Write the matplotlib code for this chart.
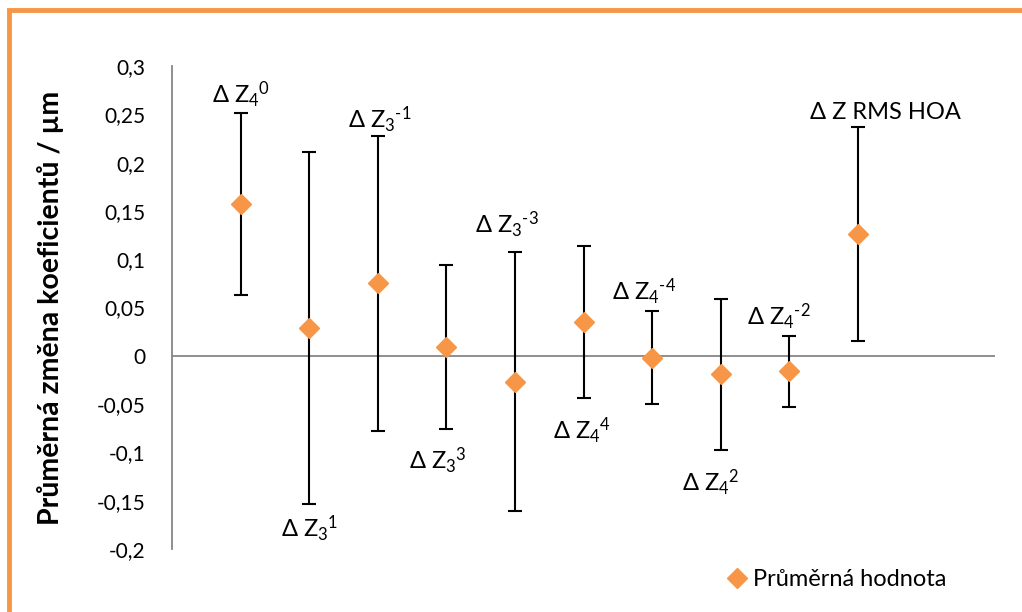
import matplotlib.pyplot as plt
from matplotlib.ticker import FuncFormatter

plt.rcParams['font.family'] = ['Lato', 'DejaVu Sans']
plt.rcParams['mathtext.fontset'] = 'custom'
plt.rcParams['mathtext.rm'] = 'Lato'
plt.rcParams['mathtext.it'] = 'Lato'
plt.rcParams['mathtext.default'] = 'regular'

# Zernike coefficient changes: mean value and error bar half-width
labels = ['Δ Z$_4$$^0$', 'Δ Z$_3$$^1$', 'Δ Z$_3$$^{‐1}$', 'Δ Z$_3$$^3$',
          'Δ Z$_3$$^{‐3}$', 'Δ Z$_4$$^4$', 'Δ Z$_4$$^{‐4}$', 'Δ Z$_4$$^2$',
          'Δ Z$_4$$^{‐2}$', 'Δ Z RMS HOA']
means = [0.157, 0.029, 0.075, 0.009, -0.027, 0.035, -0.002, -0.019, -0.016, 0.126]
errors = [0.094, 0.182, 0.153, 0.085, 0.134, 0.079, 0.048, 0.078, 0.037, 0.111]
yticks = [-0.2, -0.15, -0.1, -0.05, 0, 0.05, 0.1, 0.15, 0.2, 0.25, 0.3]

ORANGE = '#F79646'
GREY = '#868686'

fig = plt.figure(figsize=(10.22, 6.12), dpi=100)
ax = fig.add_axes([172 / 1022, 1 - 549 / 612, (995 - 172) / 1022, (549 - 66) / 612])

xs = list(range(1, len(means) + 1))
ax.errorbar(xs, means, yerr=errors, fmt='none', ecolor='black',
            elinewidth=1.5, capsize=5, capthick=1.5, zorder=2)
ax.plot(xs, means, 'D', color=ORANGE, markersize=10, label='Průměrná hodnota', zorder=3)

# label centre relative to the error bar end: (side, dx px, gap px)
placement = [('up', 0, 18), ('down', 0, 25), ('up', 2, 16), ('down', -9, 32),
             ('up', -8, 27), ('down', -2, 33), ('up', -8, 19), ('down', -10, 33),
             ('up', -10, 19), ('up', 28, 14)]
px = 72 / 100
for x, m, e, lab, (side, dx, gap) in zip(xs, means, errors, labels, placement):
    if side == 'up':
        anchor, dy = m + e, gap
    else:
        anchor, dy = m - e, -gap
    ax.annotate(lab, (x, anchor), xytext=(dx * px, dy * px),
                textcoords='offset points', ha='center', va='center',
                fontsize=17)

ax.axhline(0, color=GREY, lw=1.3, zorder=1)
ax.set_xlim(0, 12)
ax.set_ylim(-0.2, 0.3)
ax.set_yticks(yticks)
ax.yaxis.set_major_formatter(FuncFormatter(lambda v, p: ('%g' % round(v, 2)).replace('.', ',')))
ax.set_xticks([])
ax.tick_params(axis='y', length=0, labelsize=15, pad=19)
for s in ['top', 'right', 'bottom']:
    ax.spines[s].set_visible(False)
ax.spines['left'].set_color(GREY)
ax.spines['left'].set_linewidth(1.3)
ax.set_ylabel('Průměrná změna koeficientů / µm', fontsize=20.5, fontweight='bold')
ax.yaxis.set_label_coords((64 - 172) / 823, 0.5)

fig.legend(loc='center left', bbox_to_anchor=(702 / 1022, 1 - 580 / 612), frameon=False,
           fontsize=17, handletextpad=0.05, handlelength=1.2)

# outer frame of the figure
fig.patches.append(plt.Rectangle((9 / 1022, -0.05), 1.2, 1 - 10 / 612 + 0.05,
                                 transform=fig.transFigure, fill=False,
                                 edgecolor=ORANGE, lw=3.5))

fig.savefig('out.png', dpi=100)
